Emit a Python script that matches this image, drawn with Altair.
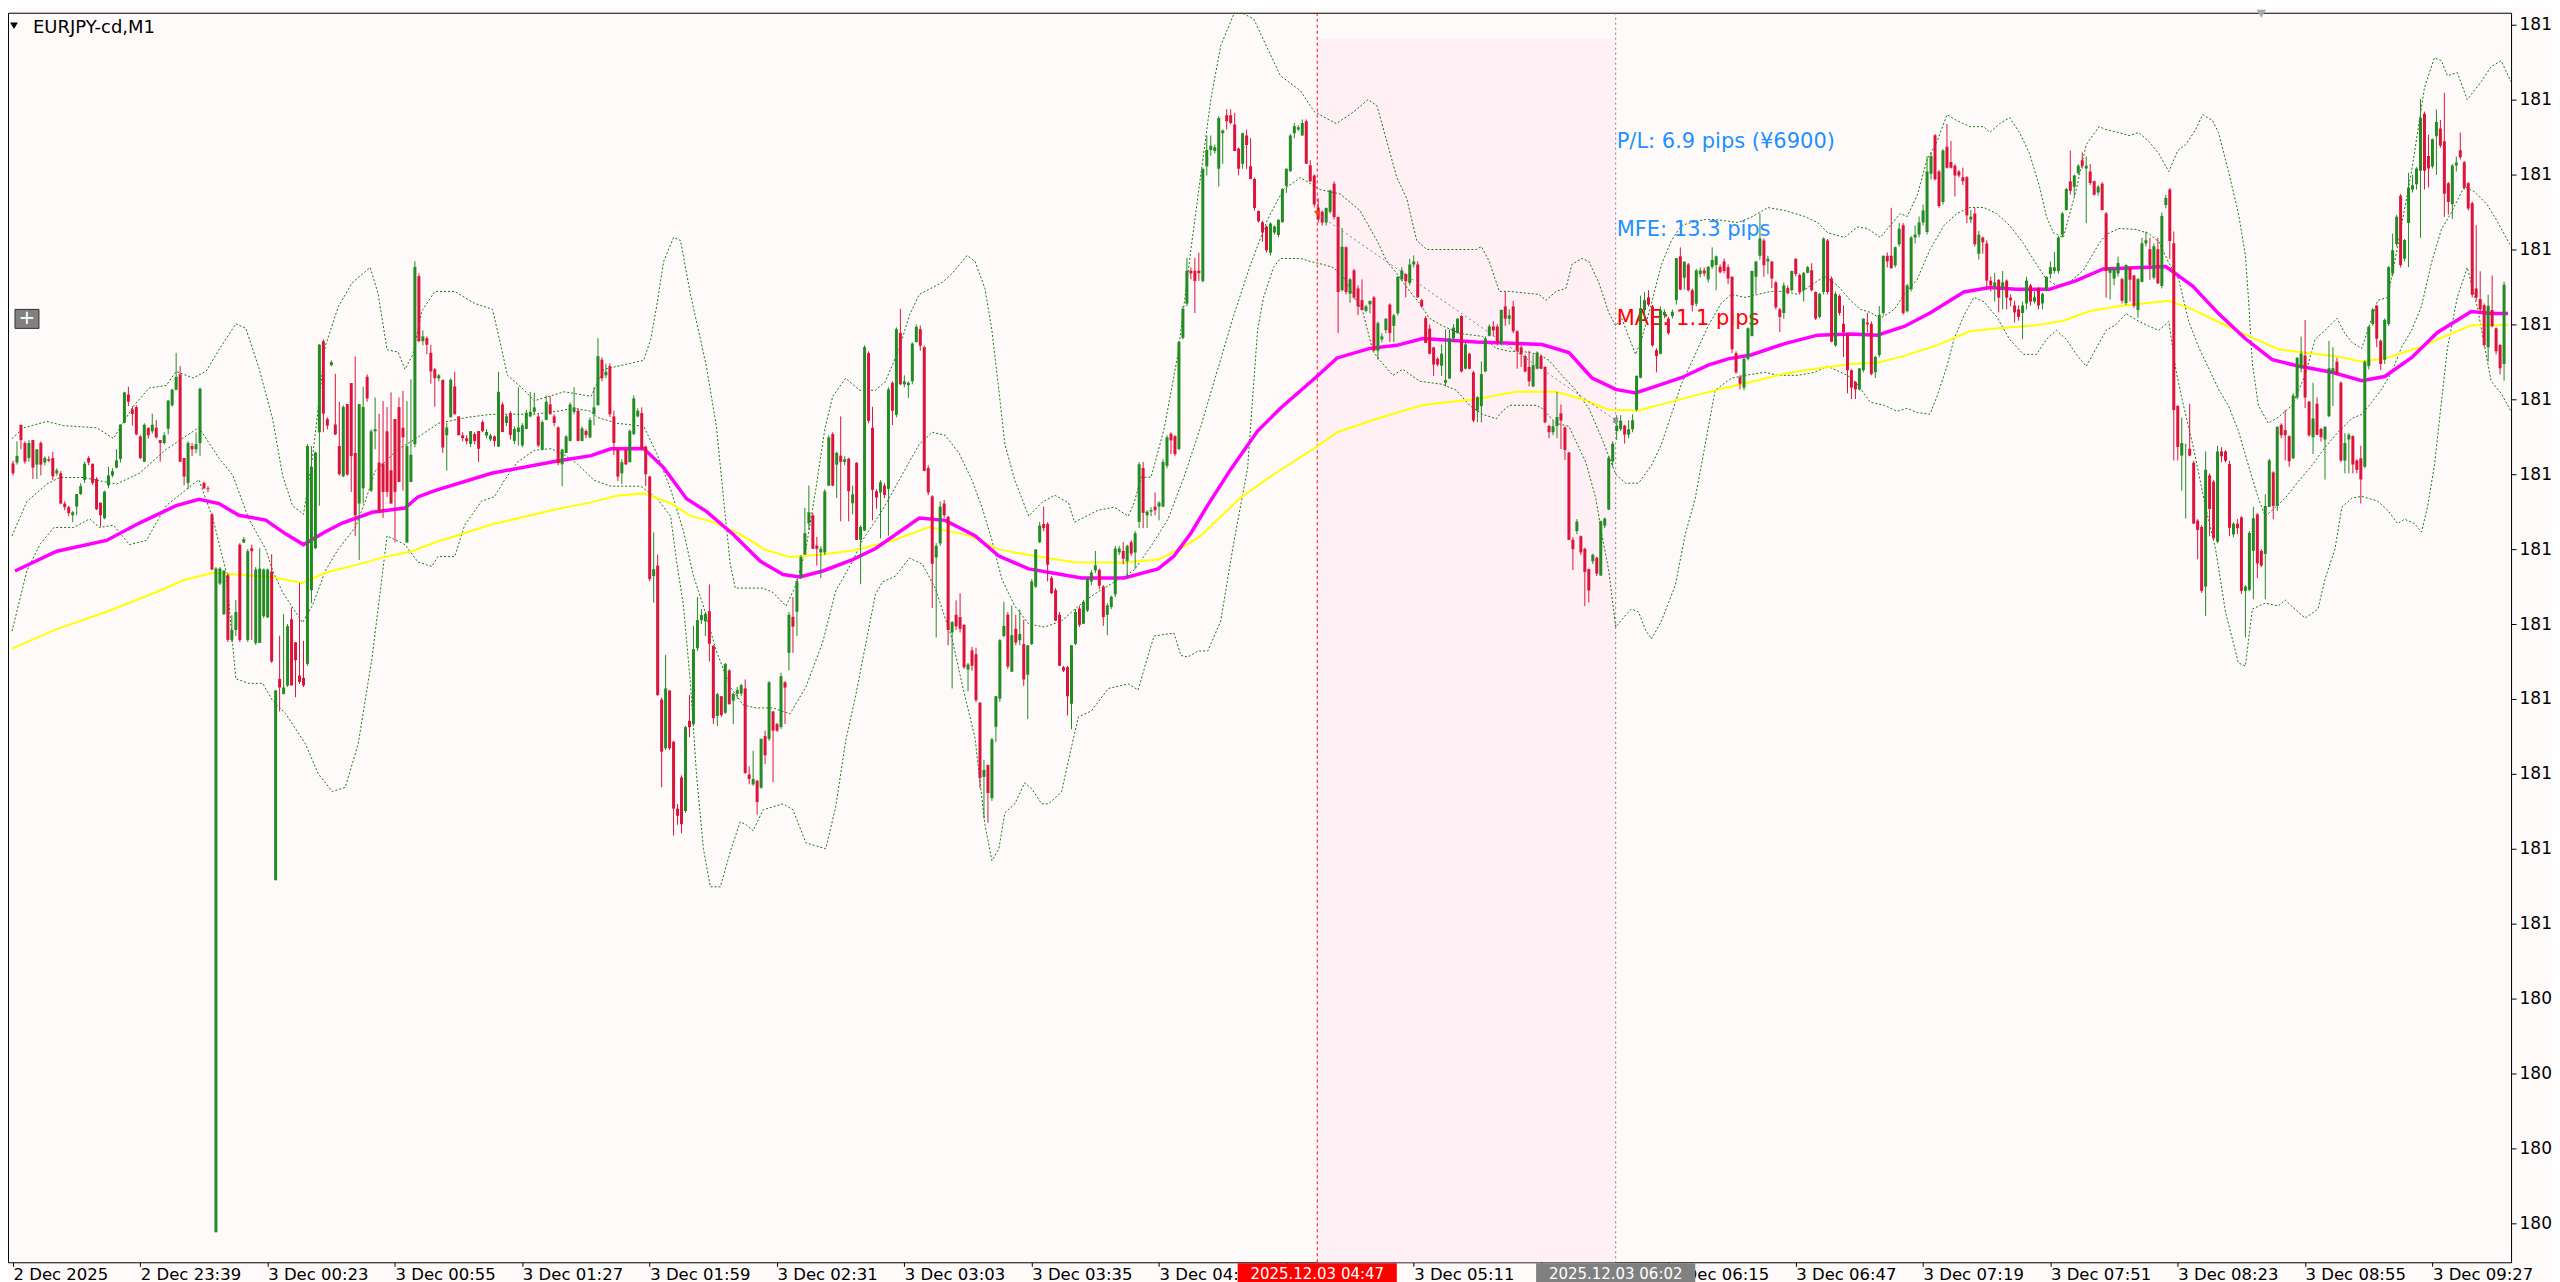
import altair as alt
import pandas as pd

FONT = "DejaVu Sans"
BASE_PRICE = 181.0   # prices below are stored in pips above 181.000
PIP = 0.01

# ---- M1 candles, one value per bar, pips above 181.000 ----
OPEN_PIPS = [
15.36,15.39,16.65,16.04,15.54,16.14,15.32,16.04,15.39,15.5,
15.54,15.03,15.03,14.02,13.9,13.63,13.92,14.34,14.81,15.54,
15.35,14.84,14.05,13.53,14.63,14.96,15.22,15.51,16.72,17.66,
17.16,17.24,16.26,15.42,16.55,16.43,16.55,16.14,16.04,16.52,
17.3,17.82,18.33,15.54,14.71,15.94,15.83,16.04,14.71,14.53,
13.66,-10.3,11.35,10.33,11.63,9.47,9.8,12.65,12.72,9.47,
12.53,9.37,9.37,10.26,10.22,11.75,1.45,8.17,7.66,7.95,
10.16,9.39,8.28,8.2,8.67,11.13,12.53,16.4,19.44,16.84,
18.64,16.66,15.94,14.93,17.34,18.04,15.71,14.02,14.53,18.25,
14.45,16.43,15.39,15.36,16.43,15.13,16.84,17.24,16.55,12.72,
14.74,16.0,21.61,19.44,19.54,19.05,18.5,18.2,18.15,16.3,
16.9,17.93,16.93,16.3,16.2,16.01,16.34,16.44,16.74,16.29,
16.16,16.26,15.92,17.33,16.71,17.04,16.11,16.41,15.96,16.51,
16.93,17.08,16.93,15.82,16.81,17.33,16.93,16.56,15.33,15.71,
16.11,17.08,17.12,16.11,16.44,16.23,17.0,17.3,18.82,18.3,
18.61,16.93,15.82,15.03,15.82,15.4,16.34,16.93,17.04,15.92,
14.92,11.6,11.95,7.48,5.85,7.78,6.07,3.84,4.88,3.76,
6.77,6.66,9.19,10.13,10.09,10.43,9.27,6.93,7.59,7.04,
8.45,7.44,7.67,7.68,7.85,4.98,4.65,4.77,4.54,6.26,
6.17,7.08,6.66,6.56,8.05,9.04,10.24,10.41,11.57,12.32,
13.36,13.63,12.62,12.39,12.39,14.62,16.34,15.32,15.62,15.41,
15.52,14.03,15.38,12.81,13.12,19.04,16.55,14.43,14.39,14.62,
14.51,18.05,16.98,19.72,18.0,17.97,18.1,19.41,19.84,19.24,
15.21,14.26,12.22,12.69,14.02,13.58,9.72,10.31,10.23,9.97,
8.48,9.12,8.99,7.37,4.9,5.3,4.19,6.57,7.51,9.6,
10.31,8.41,9.84,9.46,9.33,8.31,9.33,11.25,12.73,13.34,
13.34,11.54,11.13,10.31,8.56,8.56,7.34,9.34,10.52,10.01,
10.45,11.42,11.79,11.81,11.25,10.31,10.57,10.99,12.39,12.44,
12.1,12.73,12.39,13.41,15.21,13.63,13.75,13.92,13.92,13.92,
15.28,16.35,16.27,15.84,19.55,20.69,21.79,21.79,21.79,21.45,
25.28,25.82,25.79,25.19,26.38,26.98,26.98,26.67,25.87,25.36,
26.3,25.28,24.85,23.78,23.41,23.27,22.39,23.07,22.98,23.41,
24.63,25.11,26.38,26.5,26.3,26.78,25.31,24.97,23.9,23.76,
23.4,23.76,24.69,23.58,21.14,22.57,21.02,21.8,21.2,20.81,
20.45,20.67,20.9,19.12,19.5,19.81,20.66,19.95,20.37,21.5,
21.68,21.38,22.0,22.0,20.81,20.21,19.86,19.23,18.85,18.62,
18.05,18.19,19.53,19.71,20.28,18.52,19.02,18.4,17.12,17.27,
18.43,19.62,19.93,19.93,19.36,20.6,20.19,20.6,19.77,19.23,
18.94,18.58,17.93,18.52,18.94,18.58,16.61,16.4,16.61,17.03,
16.56,15.72,12.81,13.1,12.93,12.51,11.83,12.09,12.21,11.62,
13.28,13.82,15.43,16.44,16.5,16.62,16.32,16.5,17.15,18.22,
20.48,20.9,20.6,19.14,19.02,20.31,20.19,20.28,20.81,22.27,
21.56,22.0,21.14,20.69,21.68,21.8,21.5,21.92,21.98,21.92,
22.1,21.91,21.59,19.04,18.24,17.89,18.85,19.61,21.59,22.29,
22.8,22.1,22.1,21.4,20.5,20.38,21.21,21.14,22.19,21.65,
21.14,21.72,21.81,21.08,20.25,21.08,22.8,21.53,19.3,20.95,
20.02,19.68,18.47,18.08,17.83,18.47,20.06,20.02,18.4,18.98,
20.38,22.29,22.29,21.97,22.67,23.31,20.44,21.17,22.9,23.0,
23.4,23.08,25.03,26.31,25.1,24.08,25.93,25.42,25.29,25.1,
24.91,24.91,23.5,23.7,22.36,22.9,22.7,21.46,21.27,21.49,
21.21,21.46,20.89,20.63,20.5,20.38,20.7,21.3,20.76,21.21,
20.7,21.14,21.68,21.78,21.78,22.99,23.82,24.78,24.59,25.04,
25.48,25.2,25.1,24.78,24.4,24.69,23.7,21.72,21.53,21.7,
21.51,20.71,21.91,21.63,20.48,21.42,22.71,22.51,21.56,22.51,
21.28,23.98,24.5,22.71,17.28,15.62,15.94,15.85,15.38,13.45,
13.24,11.25,14.96,14.75,12.75,15.76,15.76,15.34,12.99,13.35,
13.56,11.11,11.14,12.44,13.66,12.44,12.34,13.91,15.06,13.94,
16.65,16.47,16.27,15.53,17.56,18.54,18.96,17.42,16.23,17.35,
16.51,16.16,16.93,18.4,18.75,18.05,15.46,16.16,16.27,15.46,
15.53,15.25,18.61,20.01,20.62,19.45,18.82,20.01,21.7,22.68,
24.29,22.19,23.38,24.5,24.68,25.13,27.03,25.62,25.27,26.28,
26.54,26.11,24.71,24.01,25.3,25.81,25.41,24.71,24.04,21.2,
20.85,20.64,19.24,20.48,19.87,19.31,18.68]

HIGH_PIPS = [
15.45,16.1,16.65,16.1,16.14,16.14,15.83,16.1,15.6,15.6,
15.75,15.2,15.1,14.1,13.95,13.77,14.34,14.7,15.42,15.6,
15.35,14.9,14.05,14.45,15.25,15.2,15.83,16.66,17.75,17.92,
17.27,17.3,16.3,16.7,16.55,17.02,16.81,16.14,16.4,17.46,
17.85,19.05,18.61,15.54,16.1,16.04,16.4,17.9,14.75,14.6,
13.7,11.9,11.9,11.8,11.7,10.3,10.8,12.7,12.9,12.5,
12.65,11.9,12.53,11.85,11.85,12.33,7.8,9.61,10.33,10.0,
10.55,9.39,11.37,9.44,16.0,15.94,15.75,19.35,19.5,16.9,
18.8,18.35,17.42,17.3,17.34,18.04,18.93,17.34,17.92,18.33,
16.5,17.56,17.02,17.44,17.24,17.73,16.84,17.56,17.78,17.44,
18.17,22.11,21.7,19.8,19.6,19.32,18.55,18.35,18.15,16.71,
18.2,18.42,16.93,16.4,16.3,16.44,16.4,16.44,16.8,16.5,
16.35,16.3,18.42,17.4,17.0,17.1,16.6,17.9,16.7,17.15,
17.75,17.72,17.0,16.8,17.63,17.6,17.0,16.6,15.85,16.3,
17.4,17.9,17.2,16.6,16.5,16.9,17.9,19.54,18.9,18.69,
18.7,17.12,15.85,15.5,15.85,16.5,17.63,17.2,17.23,15.95,
14.95,13.06,12.32,7.55,8.97,7.8,6.1,4.0,4.95,6.6,
7.63,9.94,10.9,10.5,10.4,11.32,9.3,7.7,7.6,8.7,
8.5,7.7,7.9,8.0,8.15,5.25,5.77,4.8,6.17,6.44,
8.1,7.1,6.7,8.37,8.1,10.4,10.9,11.5,12.3,13.88,
14.62,13.7,12.91,12.6,14.5,16.3,16.4,15.75,16.93,15.6,
15.55,14.62,15.4,13.3,19.3,19.1,17.25,14.5,14.8,14.7,
17.9,18.1,19.9,20.52,18.3,18.1,19.4,20.0,19.96,19.3,
15.3,14.3,12.7,14.09,14.14,13.6,10.1,10.79,11.03,10.0,
8.7,9.24,9.21,7.4,5.47,5.3,6.2,7.6,9.5,10.74,
10.4,10.62,10.31,10.48,10.14,9.3,11.5,12.5,13.41,13.92,
13.4,11.6,11.2,10.4,8.6,8.6,9.3,10.5,10.6,10.8,
11.55,11.8,12.44,11.85,11.3,10.7,10.95,12.6,12.6,12.73,
12.65,12.8,13.1,15.4,15.41,13.8,13.9,14.39,14.1,15.5,
16.3,16.4,16.3,19.45,20.6,22.22,21.9,22.22,22.39,25.2,
26.3,26.3,26.0,26.95,26.5,27.18,27.18,27.06,25.9,26.4,
26.5,26.21,24.9,23.8,23.45,23.3,23.4,23.3,23.5,24.55,
25.2,26.35,26.72,26.65,26.84,26.84,25.48,25.0,24.2,23.8,
23.9,24.5,24.77,23.6,23.22,22.6,21.55,21.85,21.3,21.5,
20.65,20.8,20.95,20.1,19.7,20.2,20.7,20.35,21.6,21.91,
21.7,22.19,22.3,22.1,20.85,20.28,20.0,19.25,18.9,19.33,
19.83,19.83,20.01,20.2,20.3,19.4,19.05,18.45,17.6,18.76,
19.6,20.0,20.1,20.0,20.5,21.08,20.5,20.78,19.8,19.3,
19.0,19.12,19.0,19.1,19.0,18.6,16.65,16.8,17.75,17.33,
16.6,15.75,12.9,13.5,12.95,12.55,11.85,12.35,12.25,13.45,
13.55,15.6,16.1,16.97,16.97,16.65,16.8,17.0,18.3,20.96,
21.08,21.14,20.65,19.2,20.6,20.5,20.25,20.5,22.21,22.57,
22.1,22.05,21.2,21.85,21.9,21.9,21.95,22.57,22.3,22.0,
22.2,22.0,21.6,19.1,18.3,18.9,19.9,21.8,22.1,23.7,
22.87,22.29,22.1,21.45,20.55,21.4,21.3,21.8,22.2,21.7,
21.75,21.95,22.04,21.1,21.05,22.9,22.85,21.6,21.1,21.0,
20.63,19.7,18.5,18.1,18.55,20.2,20.38,20.1,18.95,20.61,
22.3,22.4,23.89,22.6,23.38,23.38,21.35,22.95,23.3,23.6,
24.0,25.61,25.74,26.35,25.15,25.85,26.69,26.12,25.35,25.15,
25.23,24.95,23.82,23.89,23.12,22.93,22.8,21.6,21.72,21.5,
21.78,21.5,21.0,20.79,20.63,20.76,21.59,21.35,21.1,21.25,
21.05,21.6,22.1,22.42,22.95,23.75,24.55,25.8,25.0,25.35,
25.74,25.61,25.35,24.8,24.65,24.75,23.75,21.9,21.9,22.26,
21.55,22.0,21.91,21.65,21.55,22.89,23.1,22.89,22.7,22.89,
23.73,24.32,24.55,23.1,17.3,16.89,16.02,17.35,15.45,13.5,
13.3,15.76,15.03,14.8,15.95,15.9,15.8,15.45,13.4,13.5,
13.6,11.3,13.1,13.91,13.7,12.5,14.33,15.52,15.1,16.6,
16.7,17.14,16.3,17.7,18.9,19.59,20.15,17.45,18.05,17.56,
16.55,16.6,19.45,19.24,18.89,18.1,16.37,16.37,16.3,15.5,
15.95,18.8,19.95,20.55,20.65,19.5,20.2,21.95,23.03,23.65,
24.35,22.85,25.06,24.99,25.25,27.52,27.1,26.33,26.2,27.17,
26.82,27.73,24.75,25.35,25.6,26.4,25.45,24.75,24.1,23.31,
21.77,20.7,20.99,21.63,19.9,19.35,21.42]

LOW_PIPS = [
14.95,15.32,15.83,15.35,15.42,14.84,14.84,14.96,15.3,15.4,
14.81,14.95,14.0,13.8,13.6,13.4,13.63,14.3,14.71,15.3,
14.64,13.8,13.25,13.5,14.53,14.9,15.2,15.39,16.7,17.27,
16.62,16.3,15.5,15.4,16.19,16.36,16.19,15.42,16.0,16.33,
17.25,17.8,15.4,14.63,14.5,15.61,15.7,15.61,14.5,14.4,
11.8,-10.3,11.3,10.3,9.4,9.4,9.6,9.4,12.7,9.4,
9.47,9.3,9.37,10.2,10.2,8.7,1.45,7.08,7.66,7.9,
7.95,7.56,8.0,7.9,8.6,10.7,12.5,13.95,16.4,16.5,
18.6,16.3,14.95,14.9,14.95,14.41,12.94,12.14,14.02,17.42,
14.4,15.83,13.73,13.54,14.24,14.02,12.72,14.74,14.45,12.72,
14.74,15.9,19.4,19.3,19.0,18.02,17.25,18.1,15.71,15.12,
16.9,17.0,16.3,16.1,16.0,15.9,16.0,15.41,16.4,16.2,
16.1,15.92,15.92,16.4,16.6,16.16,16.0,15.96,15.9,16.5,
16.9,17.0,15.9,15.8,16.8,17.0,16.6,15.3,14.6,15.7,
16.1,17.0,16.1,16.1,16.2,16.2,16.63,17.3,18.1,18.2,
16.9,15.64,14.77,14.67,15.3,15.4,16.3,16.9,15.8,14.6,
11.43,10.71,7.6,4.55,5.8,5.8,2.94,3.3,3.02,3.7,
6.22,6.6,9.1,10.0,9.6,8.75,6.66,6.6,6.9,7.0,
7.3,6.66,7.5,7.6,5.0,4.65,4.6,3.64,4.5,5.32,
6.1,4.73,6.4,6.5,6.66,8.45,9.04,9.6,11.5,12.3,
13.14,12.5,11.95,11.53,12.3,14.6,14.6,14.21,13.43,15.3,
13.43,13.66,12.8,11.33,13.1,16.7,13.46,13.85,12.86,14.2,
12.95,16.64,16.9,17.97,17.9,17.54,18.0,19.4,19.12,15.1,
14.3,10.53,9.55,12.6,13.54,9.29,7.85,9.8,9.72,8.5,
7.76,8.44,7.4,4.53,3.51,3.37,4.1,6.06,7.4,9.55,
8.5,8.4,9.29,9.29,7.93,6.83,9.3,11.2,12.7,13.1,
11.42,11.0,10.1,8.6,8.4,6.95,6.49,9.3,9.9,10.0,
10.4,11.3,11.7,11.16,9.94,9.63,10.5,10.9,12.3,12.0,
11.54,12.27,11.84,13.2,13.2,13.2,13.6,13.63,13.46,13.9,
15.2,15.67,15.6,15.8,19.5,20.6,21.5,20.38,21.45,21.4,
24.97,25.62,25.7,24.6,25.36,26.5,26.67,25.79,24.97,25.19,
25.19,24.85,23.8,23.4,22.76,22.4,22.3,23.0,22.9,23.4,
24.39,25.1,26.21,26.45,26.3,25.36,24.77,23.9,23.4,23.3,
23.3,23.7,23.5,19.71,21.1,21.0,20.72,20.85,20.31,20.48,
20.4,20.37,19.1,18.82,19.4,19.7,19.41,19.41,20.3,21.44,
20.9,21.3,21.9,20.9,20.55,19.38,19.0,18.28,18.6,18.28,
17.93,18.19,19.41,19.7,18.4,18.5,18.5,16.73,16.73,16.73,
18.4,19.6,19.6,19.3,19.3,19.95,20.0,19.71,18.52,18.58,
18.4,17.93,17.9,18.5,18.5,16.7,16.2,16.3,16.2,15.84,
15.48,12.8,11.8,13.0,12.3,10.6,10.72,12.0,11.6,11.6,
13.2,13.8,15.25,16.14,16.44,16.02,16.2,16.4,17.1,18.2,
20.13,20.6,19.25,18.4,19.0,20.2,19.65,20.2,20.66,21.14,
21.16,21.1,20.43,20.6,21.56,21.6,21.4,21.85,21.14,21.7,
21.7,21.34,19.04,18.35,17.83,17.8,18.8,19.6,21.02,22.16,
21.59,21.68,21.21,20.5,19.74,20.19,21.0,21.1,21.6,21.0,
20.76,21.7,21.1,20.15,20.2,21.0,21.0,19.4,19.25,20.3,
18.91,17.7,17.51,17.51,17.8,18.4,19.74,18.3,18.21,18.9,
20.3,21.9,21.85,21.9,22.6,20.32,20.4,21.1,22.7,22.9,
23.3,23.0,24.84,24.8,23.89,24.0,25.2,25.2,24.27,24.9,
24.65,23.38,23.38,22.6,22.16,22.36,21.14,21.1,20.76,20.4,
20.5,20.5,20.6,20.06,20.12,19.51,20.5,20.63,20.7,20.5,
20.5,21.1,21.53,21.7,21.7,22.9,23.8,24.33,24.27,25.0,
25.2,23.38,24.65,24.3,24.3,23.8,20.89,20.83,21.3,21.6,
20.7,20.65,20.76,20.55,20.22,21.4,22.6,21.49,21.5,21.35,
21.2,23.87,22.19,15.46,15.46,14.45,13.52,15.6,13.35,12.16,
11.04,10.27,12.93,12.8,12.7,15.4,15.4,12.93,12.9,13.0,
11.0,9.56,11.1,10.83,11.53,11.9,10.83,13.9,13.5,13.77,
16.2,15.46,15.25,15.5,17.5,18.4,17.21,16.25,15.67,16.3,
16.09,14.82,16.9,17.28,18.3,15.4,15.03,15.03,15.03,15.03,
14.02,15.2,18.5,19.95,19.24,18.47,18.68,19.95,21.6,22.6,
21.9,22.1,21.91,24.4,24.5,22.89,24.5,24.57,25.2,24.99,
25.9,23.59,23.66,23.52,25.1,25.5,24.5,23.8,20.9,20.8,
20.4,19.25,18.75,19.9,19.0,18.33,18.12]

CLOSE_PIPS = [
15.03,15.61,16.14,15.42,16.04,15.22,15.83,15.32,15.54,15.45,
14.93,15.13,14.02,13.9,13.7,13.73,14.34,14.6,15.35,15.39,
14.71,13.83,13.63,14.42,14.96,15.1,15.46,16.66,17.73,17.42,
17.01,16.33,15.54,16.65,16.3,16.65,16.23,16.04,16.3,17.46,
17.82,18.25,15.42,14.92,16.04,15.83,16.0,17.85,14.53,14.5,
11.82,11.85,11.85,11.78,9.47,9.8,10.4,9.47,12.83,12.43,
12.43,11.82,11.85,11.82,11.82,8.75,7.78,7.88,7.88,9.93,
7.95,8.79,8.07,7.95,15.94,15.25,15.72,19.32,17.02,16.62,
18.74,16.33,15.0,17.24,14.99,15.61,13.63,17.34,17.24,17.53,
16.43,16.5,13.73,14.41,14.41,14.02,14.41,14.74,16.23,15.94,
15.65,21.92,19.44,19.6,19.32,18.43,18.2,18.3,15.89,16.56,
18.15,17.0,16.3,16.2,16.1,16.44,16.11,15.85,16.44,16.41,
16.29,16.11,17.75,16.41,16.93,16.31,16.51,16.56,16.63,17.05,
17.08,17.23,15.96,16.74,17.42,17.0,16.71,15.37,15.82,16.26,
17.33,17.23,16.11,16.53,16.31,16.81,17.23,18.94,18.2,18.42,
17.0,16.04,14.92,15.4,15.33,16.44,17.53,17.12,15.85,15.0,
11.5,11.83,7.63,5.74,7.85,5.85,3.84,3.6,3.32,6.56,
6.56,9.16,10.13,10.3,10.34,9.34,6.86,7.66,6.96,8.67,
7.33,7.67,7.8,7.96,5.03,4.83,4.83,4.06,6.17,5.62,
8.05,6.44,6.44,8.26,7.88,10.31,9.91,11.43,12.24,13.03,
13.73,12.51,12.51,12.51,14.43,16.23,14.62,15.71,15.41,15.5,
14.43,14.33,12.81,13.24,19.24,16.78,14.48,14.22,14.73,14.31,
17.83,17.12,19.84,18.0,18.1,18.05,19.36,19.92,19.29,15.11,
14.39,12.01,12.61,13.92,13.63,9.8,10.06,9.92,9.84,8.56,
8.65,8.61,7.46,4.86,5.13,4.36,6.15,7.59,9.46,9.94,
8.58,9.63,9.38,9.67,8.15,9.29,11.42,12.49,13.29,13.2,
11.98,11.03,10.11,8.61,8.44,7.59,9.29,10.4,9.97,10.74,
11.5,11.72,11.96,11.28,10.23,10.62,10.91,12.52,12.52,12.18,
12.61,12.35,13.03,15.33,13.71,13.75,13.8,13.8,14.05,15.41,
16.23,16.13,15.67,19.41,20.52,21.79,21.7,21.45,21.71,25.19,
25.82,25.96,25.91,26.89,26.47,26.78,26.72,25.79,25.19,26.38,
25.99,24.85,23.88,23.44,23.07,22.47,23.37,23.27,23.49,24.51,
25.19,26.3,26.61,26.58,26.72,25.36,24.77,24.0,23.5,23.4,
23.88,24.47,23.58,21.08,22.59,21.08,21.5,20.9,20.6,20.48,
20.6,20.78,19.12,20.04,19.6,20.19,19.71,20.3,21.59,21.8,
21.44,22.0,22.1,20.9,20.6,19.38,19.02,18.66,18.66,19.02,
18.14,19.53,19.89,20.19,18.43,19.33,18.52,16.79,17.57,18.34,
19.53,19.93,19.8,19.41,20.48,20.19,20.3,19.77,19.12,19.0,
18.43,18.1,18.64,19.06,18.52,16.73,16.4,16.6,16.91,16.79,
15.81,12.81,12.5,13.42,12.39,11.74,11.12,12.31,11.68,13.43,
13.52,15.55,16.02,16.62,16.79,16.32,16.5,16.8,18.28,20.54,
20.81,20.66,19.3,18.94,20.48,20.42,19.71,20.42,22.21,21.16,
22.09,21.14,20.64,21.8,21.8,21.7,21.92,22.15,22.27,21.74,
21.78,21.53,19.17,18.4,18.02,18.85,19.87,21.78,22.1,22.87,
21.97,22.19,21.53,20.57,20.25,21.3,21.04,21.78,21.68,21.08,
21.72,21.91,21.14,20.19,21.02,22.87,21.08,19.42,21.02,20.38,
19.74,18.47,17.89,17.83,18.53,20.19,20.0,18.34,18.91,20.32,
22.29,22.1,21.88,22.57,23.19,20.38,21.3,22.9,23.0,23.4,
23.8,25.1,25.61,24.84,23.95,25.8,25.23,25.23,24.97,24.97,
24.78,23.63,23.59,22.67,22.99,22.74,21.46,21.3,21.4,20.89,
21.4,20.89,20.8,20.4,20.25,20.63,21.46,20.76,20.9,20.63,
21.02,21.59,21.91,21.91,22.9,23.7,24.52,24.46,24.97,25.29,
25.29,25.29,24.72,24.33,24.59,23.82,21.78,21.85,21.85,22.05,
20.79,21.98,21.49,20.62,21.51,22.71,22.81,21.98,22.61,21.37,
23.62,24.22,22.78,17.14,15.91,16.04,15.95,15.62,13.35,13.14,
11.11,15.15,13.84,12.86,15.76,15.6,15.45,13.21,13.35,13.2,
11.11,11.25,13.04,13.53,12.02,11.95,13.94,15.46,13.94,16.58,
16.3,16.3,15.43,17.63,18.89,19.03,17.56,16.3,16.86,16.32,
16.23,16.58,18.54,18.54,18.33,15.46,16.04,16.32,15.32,15.15,
14.82,18.75,19.92,20.5,19.52,18.68,20.15,21.91,22.47,23.59,
21.98,22.82,24.57,24.64,25.2,26.89,25.13,25.2,26.18,26.75,
25.97,24.36,24.08,25.3,25.4,25.58,24.57,23.87,20.99,20.9,
20.5,19.31,20.62,19.94,19.1,18.54,21.32]

# ---- moving averages: (bar index, pips above 181.000) ----
MAGENTA_BAR = [0.5,11,23.5,31.75,41,46.75,51.75,56.75,63.5,68.5,73,78.5,82.75,90.25,98.5,101.75,106,
  120.25,136.75,145.25,150.25,158.5,163.5,169.25,174.25,181,187.75,193.5,197.75,203.5,211,216.75,
  227.75,234.25,241.75,247.75,255.25,262.75,268.5,279.25,287.75,291.75,296,300.25,306,312.75,318.5,
  328,332.75,341,347.75,354.25,367.75,384.25,391,396.75,402.75,407.75,412.75,419.25,426,431,436.75,
  445.25,453.5,461.75,468.5,475.25,481.75,490.25,496.75,503.5,511.75,518.5,525.25,541,547.75,554.25,
  561,567.75,574.25,582.75,590.25,596,602.75,609.25,617.75,622.75,627]
MAGENTA_PIPS = [11.77,12.43,12.79,13.37,13.95,14.16,14.02,13.63,13.47,13.01,12.65,13.08,13.37,13.73,13.87,14.24,14.45,
  15.03,15.44,15.62,15.85,15.86,15.22,14.18,13.76,12.99,12.1,11.65,11.57,11.77,12.15,12.52,
  13.54,13.46,12.95,12.27,11.84,11.67,11.54,11.54,11.84,12.27,13.03,13.97,15.16,16.44,17.2,
  18.3,18.88,19.2,19.3,19.53,19.41,19.33,19.06,18.22,17.83,17.71,17.93,18.22,18.64,18.85,18.98,
  19.36,19.64,19.68,19.64,19.93,20.38,21.08,21.23,21.17,21.17,21.46,21.85,21.93,21.28,20.36,
  19.52,18.82,18.61,18.4,18.12,18.26,18.89,19.73,20.43,20.36,20.36]
YELLOW_BAR = [-0.25,11,23.5,36,42.75,50.25,58.5,65.25,72.75,78.5,86.75,93.5,100.25,106,120.25,136.75,
  145.25,151.75,158.5,165.25,170.25,176,182.75,189.25,195.25,203.5,211,221,230.25,240.25,247.75,
  256.75,266.75,279.25,287.75,293.5,298.5,308.5,316.75,328,332.75,342.75,354.25,367.75,377.75,
  387.75,394.25,401,408.5,414.25,422.75,431,436.75,445.25,453.5,461.75,468.5,475.25,483.5,491.75,
  500.25,508.5,515.25,521.75,528.5,541.75,547.75,554.25,561,569.25,577.75,584.25,590.25,596.75,
  604.25,611,617.75,627]
YELLOW_PIPS = [9.18,9.83,10.41,11.06,11.46,11.71,11.63,11.56,11.37,11.71,11.99,12.24,12.43,12.72,13.32,13.84,
  14.06,14.28,14.36,14.03,13.61,13.4,12.99,12.47,12.24,12.32,12.45,12.78,13.24,12.95,12.49,
  12.27,12.06,12.05,12.15,12.52,12.95,14.22,14.99,15.95,16.4,16.85,17.31,17.51,17.75,
  17.75,17.51,17.15,17.13,17.33,17.63,17.9,18.08,18.36,18.53,18.68,18.72,18.95,19.3,19.77,
  19.89,19.97,20.12,20.44,20.6,20.79,20.5,20.08,19.66,19.17,19.03,18.93,18.75,18.89,
  19.21,19.59,19.97,19.97]

# ---- Bollinger band lines: (bar index, pips above 181.000) ----
BB_UP_BAR = [-0.25,2.75,8.5,12.75,21,25.25,30.25,34.25,38.5,41,45.25,48.5,51.75,56,58.5,61.75,65.25,67.75,
  70.25,73,75.25,78.5,81.75,85.25,89.75,91.75,94,96.75,98.5,100.5,102.75,
  106,111,116,120.5,122.75,124.25,127.75,131,138.5,145.25,148.5,158.5,160.25,161.75,163.5,166,167.75,
  170.25,172.75,174.25,176.75,179,180.25,181.5,188.5,191,194.25,196.75,199.25,201.75,204,206,209.25,
  212.75,216.75,219.25,222.75,225.25,227.75,233.5,236,239.75,241.75,244.25,246,247.75,249.25,251.75,
  255.25,258.5,261.75,265.25,266.75,272.75,276.75,280.25,281.75,283.5,286,289.25,292.75,296,298.5,
  301,303.5,307.25,311.75,316,318.5,323.5,327,332.5,337,340.5,
  342.75,345.25,347.75,350.25,352.75,355.25,367.75,369,371,373.5,376,383.5,385.25,387.75,390.25,
  391.75,394.25,396,398.5,401,402.75,404.25,407.75,409.25,411.75,414.25,416.75,419.25,421.75,425.25,427.75,
  433.5,436.75,441,445.25,450.25,453.5,456,460.25,463.5,466,469.25,471.75,474.25,476,478.5,481,483.5,
  486,488.5,491.75,495.25,496.75,499.25,501.75,504.25,506.75,509.25,511,512.75,515.25,518.5,521,524.25,
  526,529.25,531.75,534.25,536.75,539.25,541.75,544,546,548.5,550.25,552.75,554.25,556.75,559.25,561,
  561.75,562.75,564.25,566.75,569.25,572.75,576,578.5,581,584,586,587.75,590.25,591.75,594.25,596.75,
  599.25,602.75,606,608.5,610.25,611.75,614.25,616.75,620.25,622.75,625.25,627.75]
BB_UP_PIPS = [16.19,16.55,16.76,16.62,16.55,16.19,17.27,17.88,17.96,18.43,18.21,18.43,19.15,20.02,19.87,18.57,
  16.84,14.96,13.95,13.66,15.54,19.29,20.59,21.39,21.9,21.03,19.15,19.08,18.5,19.0,20.45,
  21.1,21.1,20.7,20.5,19.2,18.3,17.9,17.45,17.75,17.6,18.5,18.8,19.5,20.6,22.1,22.9,22.8,
  21.0,19.5,18.6,16.6,13.6,12.0,11.2,11.2,11.05,10.6,11.3,12.5,14.5,16.5,17.6,18.2,
  17.8,17.8,18.1,19.2,20.3,21.0,21.4,21.7,22.3,22.1,21.2,19.8,17.8,16.0,14.8,
  13.6,14.05,14.3,14.05,13.4,13.8,13.9,13.6,14.05,14.9,14.9,16.5,19.0,22.5,25.0,
  27.5,29.3,30.5,30.2,29.0,28.3,27.8,27.1,26.7,27.1,27.5,
  27.3,26.1,24.9,24.2,22.8,22.5,22.5,22.6,22.1,21.1,21.1,21.0,20.8,21.1,21.2,
  22.0,22.2,22.1,21.4,20.4,19.95,20.2,19.0,19.5,20.7,22.0,22.8,23.3,23.4,23.5,23.5,
  23.4,23.57,23.9,23.8,23.6,23.4,23.06,22.9,23.25,23.2,22.9,23.3,23.7,23.6,24.3,25.5,26.1,
  27.0,26.8,26.6,26.6,26.4,26.7,26.9,26.4,25.7,24.6,23.6,23.06,22.9,24.5,26.0,26.6,
  26.5,26.4,26.3,26.4,26.1,25.7,25.1,25.8,26.0,26.5,27.0,26.8,26.4,25.1,23.7,22.3,
  20.9,18.7,17.3,16.7,16.9,17.3,18.3,19.5,19.8,20.2,19.7,19.4,19.2,19.8,20.8,20.9,
  22.6,25.1,27.9,28.9,28.8,28.3,28.4,27.5,28.1,28.6,28.8,28.1]

BB_MID_BAR = [-0.25,3.5,8.5,11.75,17.75,26,31.75,38.5,45.25,46.75,51.75,55.25,59.25,63.5,65.25,67.75,72.75,
  75.25,78.5,81.75,86,88.5,91,96.75,100.25,
  102,107,114.25,120.25,125.25,131,136.75,141,145.25,146.75,151.75,158.5,161.75,165.25,168.5,171,173.5,
  176.75,180.25,183.5,186.75,191,195.25,199.25,203.5,206.75,211,
  213.5,218.5,223.5,227.75,231,234.25,237.75,241,243.5,246,248.5,251.75,255.25,259.25,263.5,267.75,
  271.75,276.75,281.75,286,290.25,294.25,298.5,302.75,306.75,311,315.25,319.25,323.5,
  326,328.5,333.5,338.5,342.75,345.25,347.75,351,353.5,356,359.25,363.5,369.25,372.75,376,379.25,383.5,
  386,389.25,392.75,396,399.25,402.75,405.25,408.5,411.75,414.25,416.75,419.25,422.75,426,429.25,
  431.75,435.25,438.5,441.75,445.25,448.5,451.75,455.25,458.5,461.75,464.25,466.75,469.25,472.75,475.25,
  478.5,481.75,485.25,488.5,491.75,495.25,498.5,501.75,505.25,508.5,511,513.5,516.75,520.25,524.25,
  526,529.25,533.5,536.75,539.25,541.75,544.25,546.75,549.25,551.75,554.25,556.75,559.25,561.75,564.25,
  566,567.75,571,574.25,577.75,581,584.25,587.75,590.25,592.75,595.25,597.75,600.25,602.75,605.25,
  607.75,610.25,612.75,616,618.5,621.75,624.25,627.75]
BB_MID_PIPS = [12.94,14.09,14.67,14.89,14.89,14.67,15.03,15.83,16.43,16.55,15.54,14.96,13.51,12.5,11.78,11.06,10.05,
  10.62,11.78,12.5,13.22,14.09,15.1,15.83,16.11,
  16.26,16.7,16.9,17.0,17.0,17.0,17.1,17.2,17.1,16.9,16.7,16.6,15.7,14.5,13.1,11.6,10.6,
  9.1,7.9,7.3,7.2,7.2,7.0,7.9,9.4,11.1,12.1,
  12.8,13.8,15.0,16.0,16.4,16.3,15.7,14.8,13.9,12.8,11.5,10.6,10.0,9.9,10.1,10.6,
  11.0,11.4,11.8,12.6,13.5,14.9,16.6,18.5,20.3,22.0,23.5,24.5,24.9,
  24.7,24.5,24.35,23.8,22.8,22.1,21.7,21.1,20.7,20.2,19.95,19.7,19.6,19.2,19.1,19.1,19.0,
  18.8,18.3,17.8,17.2,16.2,15.0,14.7,14.7,15.3,16.0,17.0,18.0,19.0,19.95,20.7,
  21.0,20.9,21.0,21.1,21.1,21.0,21.3,21.6,21.3,20.8,20.5,20.4,20.2,20.5,21.0,
  21.5,22.5,23.3,23.7,23.9,23.9,23.7,23.3,22.7,22.0,21.5,21.3,21.4,21.8,22.7,
  23.0,23.2,23.17,23.03,22.75,22.05,21.5,20.1,19.24,18.54,17.84,17.28,16.44,15.3,14.2,
  13.6,13.8,14.2,14.75,15.3,15.9,16.4,16.86,17.0,17.4,17.84,18.4,19.24,19.8,20.6,
  22.05,23.17,23.73,24.6,24.43,24.0,23.45,22.6]

BB_LO_BAR = [-0.25,3.5,6.75,10.25,15.25,19.25,21.75,25.25,29.25,33.5,38.5,45.25,46.75,50.25,53.5,56,59.25,
  62.75,65.25,68.5,73.5,76.75,80.25,83.5,86.75,90.25,94,98.5,101.75,105.25,
  106.75,111,113.5,117.75,121,123.5,126.75,131,135.25,138.5,141.75,146,150.25,157.75,161.75,165.25,
  166.75,168.5,170.25,171.75,173.5,175.25,177.75,180.25,182.75,184.25,186,188.5,193.5,196,199.25,204.25,
  206.75,209.25,
  211.75,213.5,216.75,218.5,221.75,225.25,228.5,231.75,236,238.5,241.75,244.25,246,247.75,249.25,251.75,
  254.25,256,258.5,260.25,263.5,266,267.75,271,275.25,280.25,282.75,285.25,286.75,291.75,293.5,295.25,
  297.75,300.25,303.5,306.75,310.25,312.75,314.25,316.75,318.5,323.5,
  326,329.25,331.75,334.25,336.75,339.25,341.75,343.5,346.75,349.25,353.5,359.25,362.75,366,369.25,372.75,
  374.25,376,382.75,384.25,387.75,391,392.75,395.25,397.75,399.25,401,402.75,405.25,406.75,408.5,410.25,
  411.75,414.25,417.75,420.25,422.75,425.25,427.75,
  431.75,435.25,440.25,443.5,448.5,452.75,456,461,463.5,466.75,470.25,473.5,476,478.5,481.75,483.5,486,
  487.75,490.25,492.75,495.25,498.5,501.75,505.25,508.5,511,513.5,516,518.5,521,523.5,
  526,528.5,531,534.25,536.75,539.25,541.75,543.5,545.25,547.75,551,553.5,556,559.25,561,562.75,566,
  569.25,571,574.25,576,579.25,581,583.5,585.25,587.75,590.25,594.25,596.75,599.25,601,603.5,605.25,
  606.75,608.5,610.25,611.75,614.25,616.75,619.25,622.75,625.25,627.75]
BB_LO_PIPS = [9.76,11.78,12.65,13.22,13.22,13.51,13.22,13.3,12.65,12.79,13.95,14.67,14.81,13.51,11.78,8.17,8.02,
  8.02,7.44,7.01,6.0,4.99,4.41,4.55,6.0,8.89,12.94,12.65,12.07,11.92,
  12.25,12.25,13.3,14.1,14.25,14.8,15.4,15.8,15.85,15.65,15.35,14.8,14.6,14.6,14.2,13.6,
  12.1,10.6,8.0,5.0,2.5,1.23,1.23,2.4,3.4,3.3,3.1,3.8,4.0,3.8,2.7,2.5,
  3.9,6.1,
  7.6,8.8,11.0,11.4,11.6,12.2,12.0,11.2,9.5,8.0,6.2,3.3,2.1,2.5,3.7,4.0,
  4.7,4.5,4.0,4.0,4.4,5.9,6.9,7.1,7.85,8.0,7.8,8.95,9.6,9.7,8.95,8.9,
  9.1,9.1,10.1,12.7,15.2,19.8,20.9,21.9,22.2,22.2,
  22.1,22.0,21.9,21.6,21.0,20.4,19.1,18.8,18.3,18.5,18.1,18.0,17.8,17.3,17.0,16.85,
  17.1,17.3,17.3,17.2,16.7,16.6,16.1,15.4,14.2,13.0,11.8,9.9,10.3,10.5,10.4,9.8,
  9.5,10.1,11.3,13.0,14.2,16.0,17.8,
  18.2,18.3,18.4,18.3,18.3,18.4,18.6,18.3,18.0,17.4,17.3,17.1,17.2,17.06,17.0,17.6,18.6,
  19.5,20.3,20.9,20.76,20.25,19.5,19.0,19.0,19.5,19.8,19.5,19.0,18.6,19.2,
  19.8,20.0,20.36,20.1,19.94,19.8,20.1,18.5,17.4,16.0,13.9,12.5,10.4,8.7,8.6,10.5,10.7,
  10.6,10.8,10.4,10.2,10.5,11.5,12.5,13.9,14.2,14.26,14.1,13.8,13.35,13.5,13.35,13.07,
  13.9,15.3,17.4,19.2,20.9,21.9,20.6,18.1,17.7,17.1]

# ---- axes ----
TIME_LABELS = ["2 Dec 2025","2 Dec 23:39","3 Dec 00:23","3 Dec 00:55","3 Dec 01:27","3 Dec 01:59",
  "3 Dec 02:31","3 Dec 03:03","3 Dec 03:35","3 Dec 04:07","","3 Dec 05:11","",
  "3 Dec 06:15","3 Dec 06:47","3 Dec 07:19","3 Dec 07:51","3 Dec 08:23","3 Dec 08:55","3 Dec 09:27"]
LABEL_STEP = 32
PRICE_TICKS = [180.9,180.925,180.95,180.975,181.0,181.025,181.05,181.075,181.1,181.125,181.15,
  181.175,181.2,181.225,181.25,181.275,181.3]

# ---- trade ----
ENTRY_BAR, EXIT_BAR = 327.75, 402.75
ENTRY_PRICE, EXIT_PRICE = 181.237, 181.168
ZONE_TOP = 181.2955
ENTRY_LABEL, EXIT_LABEL = "2025.12.03 04:47", "2025.12.03 06:02"
NOTES = ["P/L: 6.9 pips (¥6900)", "MFE: 13.3 pips", "MAE: 1.1 pips"]
NOTE_PRICES = [181.259, 181.2294, 181.1997]
NOTE_COLORS = ["#1E90FF", "#1E90FF", "#FF0000"]
SYMBOL = "EURJPY-cd,M1"

# ---- layout / style ----
W, H = 2506, 1251
X_DOMAIN = [0, 626.5]
Y_DOMAIN = [180.887, 181.304]
BG = "#FFFAFA"
UP, DOWN = "#228B22", "#DC143C"
BB_COLOR = "#0E7A0E"
BOX_HALF = 20

def px(v):
    return BASE_PRICE + v * PIP

n = len(OPEN_PIPS)
bars = pd.DataFrame({
    "bar": list(range(n)),
    "open": [px(v) for v in OPEN_PIPS],
    "high": [px(v) for v in HIGH_PIPS],
    "low": [px(v) for v in LOW_PIPS],
    "close": [px(v) for v in CLOSE_PIPS],
})
bars["dir"] = ["up" if c >= o else "down" for o, c in zip(bars["open"], bars["close"])]

mag = pd.DataFrame({"bar": MAGENTA_BAR, "p": [px(v) for v in MAGENTA_PIPS]})
yel = pd.DataFrame({"bar": YELLOW_BAR, "p": [px(v) for v in YELLOW_PIPS]})
bb = pd.concat([
    pd.DataFrame({"bar": BB_UP_BAR, "p": [px(v) for v in BB_UP_PIPS], "band": "upper"}),
    pd.DataFrame({"bar": BB_MID_BAR, "p": [px(v) for v in BB_MID_PIPS], "band": "middle"}),
    pd.DataFrame({"bar": BB_LO_BAR, "p": [px(v) for v in BB_LO_PIPS], "band": "lower"}),
], ignore_index=True)

xs = alt.Scale(domain=X_DOMAIN, nice=False, zero=False)
ys = alt.Scale(domain=Y_DOMAIN, nice=False, zero=False)

label_expr = "[" + ",".join("'" + s + "'" for s in TIME_LABELS) + "][round(datum.value / %d)]" % LABEL_STEP
x_axis = alt.Axis(values=[i * LABEL_STEP for i in range(len(TIME_LABELS))], labelExpr=label_expr,
                  orient="bottom", domain=False, grid=False, tickSize=4, tickColor="black",
                  labelAlign="left", labelBaseline="top", labelPadding=0, labelFont=FONT,
                  labelFontSize=16.5, labelColor="black", labelFlush=False, labelOverlap=False,
                  labelBound=False, title=None)
y_axis = alt.Axis(values=PRICE_TICKS, labelExpr="datum.value >= 180.9999 ? '181' : '180'",
                  orient="right", domain=False, grid=False, tickSize=5, tickColor="black",
                  labelPadding=3, labelFont=FONT, labelFontSize=17, labelColor="black",
                  labelFlush=False, labelOverlap=False, labelBound=False, title=None)

def X(f):
    return alt.X(f, type="quantitative", scale=xs, axis=x_axis)

def Y(f):
    return alt.Y(f, type="quantitative", scale=ys, axis=y_axis)

color_dir = alt.Color("dir:N", scale=alt.Scale(domain=["up", "down"], range=[UP, DOWN]), legend=None)

zone_df = pd.DataFrame({"x0": [ENTRY_BAR], "x1": [EXIT_BAR], "top": [ZONE_TOP], "bot": [Y_DOMAIN[0]]})
zone = alt.Chart(zone_df).mark_rect(color="#FFF0F5").encode(
    x=X("x0"), x2="x1", y=Y("top"), y2="bot")

lines_df = pd.DataFrame({"bar": [ENTRY_BAR, EXIT_BAR], "kind": ["entry", "exit"]})
entry_rule = alt.Chart(lines_df[lines_df.kind == "entry"]).mark_rule(
    color="#FF0000", strokeDash=[3, 3], strokeWidth=1).encode(x=X("bar"))
exit_rule = alt.Chart(lines_df[lines_df.kind == "exit"]).mark_rule(
    color="#808080", strokeDash=[2, 3], strokeWidth=1).encode(x=X("bar"))

bands = alt.Chart(bb).mark_line(color=BB_COLOR, strokeWidth=1, strokeDash=[2, 2], clip=True).encode(
    x=X("bar"), y=Y("p"), detail="band:N")

notes_df = pd.DataFrame({"bar": [EXIT_BAR] * 3, "p": NOTE_PRICES, "t": NOTES, "c": NOTE_COLORS})
notes = alt.Chart(notes_df).mark_text(align="left", baseline="alphabetic", font=FONT,
                                      fontSize=21, dx=1).encode(
    x=X("bar"), y=Y("p"), text="t:N", color=alt.Color("c:N", scale=None))

yellow = alt.Chart(yel).mark_line(color="#FFFF00", strokeWidth=2, clip=True).encode(x=X("bar"), y=Y("p"))
magenta = alt.Chart(mag).mark_line(color="#FF00FF", strokeWidth=3.5, clip=True).encode(x=X("bar"), y=Y("p"))

wicks = alt.Chart(bars).mark_rule(strokeWidth=1, clip=True).encode(
    x=X("bar"), y=Y("low"), y2="high", color=color_dir)
bodies = alt.Chart(bars).mark_bar(size=3, clip=True).encode(
    x=X("bar"), y=Y("open"), y2="close", color=color_dir)

trade_df = pd.DataFrame({"bar": [ENTRY_BAR, EXIT_BAR], "p": [ENTRY_PRICE, EXIT_PRICE]})
trade_line = alt.Chart(trade_df).mark_line(color="#808080", strokeDash=[2, 3], strokeWidth=1).encode(
    x=X("bar"), y=Y("p"))
entry_mark = alt.Chart(trade_df.iloc[[0]]).mark_point(shape="triangle-down", filled=True, size=40,
                                                      color="#FF4500", opacity=1).encode(x=X("bar"), y=Y("p"))
exit_mark = alt.Chart(trade_df.iloc[[1]]).mark_point(shape="cross", angle=45, filled=True, size=40,
                                                     color="#909090", opacity=1).encode(x=X("bar"), y=Y("p"))

# decorations of the terminal window
deco = pd.DataFrame({"t": [SYMBOL]})
title = alt.Chart(deco).mark_text(align="left", baseline="alphabetic", font=FONT, fontSize=18,
                                  color="black").encode(x=alt.value(25), y=alt.value(20), text="t:N")
tri = alt.Chart(deco).mark_point(shape="triangle-down", filled=True, size=60, color="black",
                                 opacity=1).encode(x=alt.value(6), y=alt.value(13))
plus_box = alt.Chart(deco).mark_rect(fill="#808080", stroke="#303030", strokeWidth=1).encode(
    x=alt.value(7), x2=alt.value(31), y=alt.value(297), y2=alt.value(316))
plus_txt = alt.Chart(deco).mark_text(text="+", font=FONT, fontSize=20, color="white",
                                     baseline="middle", align="center").encode(
    x=alt.value(19), y=alt.value(306))
tri_r = alt.Chart(deco).mark_point(shape="triangle-down", filled=True, size=90, color="#A8A8A8",
                                   opacity=1).encode(x=alt.value(2256), y=alt.value(1))

box_df = pd.DataFrame({"bar": [ENTRY_BAR, EXIT_BAR], "t": [ENTRY_LABEL, EXIT_LABEL],
                       "c": ["#FF0000", "#808080"]})
box_df["b0"] = box_df["bar"] - BOX_HALF
box_df["b1"] = box_df["bar"] + BOX_HALF
boxes = alt.Chart(box_df).mark_rect().encode(
    x=X("b0"), x2="b1", y=alt.value(H + 1), y2=alt.value(H + 23),
    color=alt.Color("c:N", scale=None))
box_txt = alt.Chart(box_df).mark_text(font=FONT, fontSize=15, color="white", baseline="middle",
                                      align="center").encode(
    x=X("bar"), y=alt.value(H + 12), text="t:N")

chart = alt.layer(
    zone, entry_rule, exit_rule, bands, notes, yellow, magenta, wicks, bodies,
    trade_line, entry_mark, exit_mark, title, tri, plus_box, plus_txt, tri_r, boxes, box_txt
).properties(width=W, height=H, padding=0, background=BG).configure_view(
    fill=BG, stroke="black", strokeWidth=1)

chart.save("out.html", embed_options={"renderer": "svg", "actions": False})
